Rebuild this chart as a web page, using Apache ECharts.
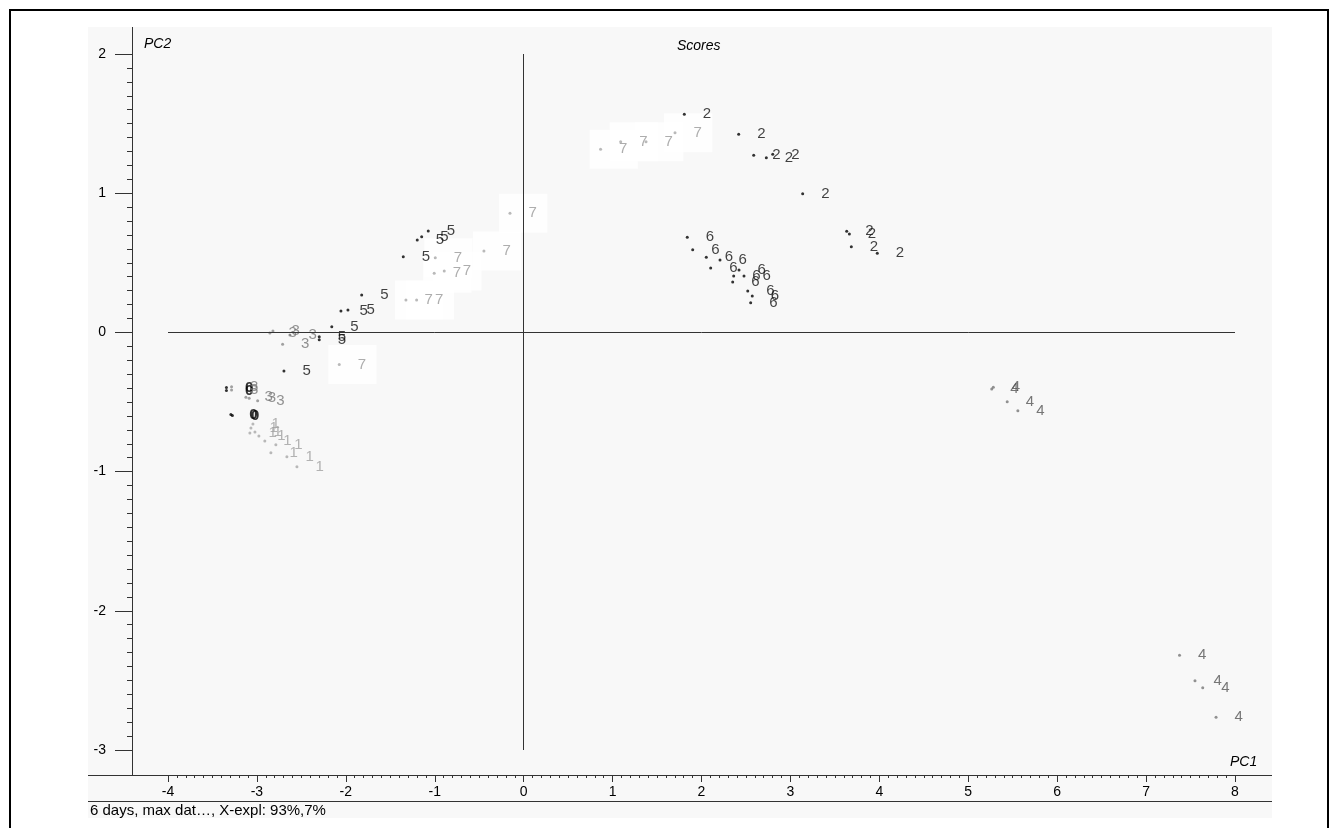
<!DOCTYPE html>
<html>
<head>
<meta charset="utf-8">
<title>Scores</title>
<script src="https://cdn.jsdelivr.net/npm/echarts@6/dist/echarts.min.js"></script>
<style>
  html, body { margin: 0; padding: 0; background: #ffffff; }
  #chart { width: 1332px; height: 828px; }
</style>
</head>
<body>
<div id="chart"></div>
<script>
// PCA score values (PC1, PC2) for each sample group
const scores0 = [[-3.343, -0.396], [-3.343, -0.417], [-3.293, -0.590], [-3.276, -0.597]];
const scores1 = [[-3.045, -0.658], [-3.067, -0.687], [-3.079, -0.723], [-3.022, -0.716], [-2.978, -0.744],
                 [-2.911, -0.780], [-2.787, -0.808], [-2.843, -0.865], [-2.663, -0.894], [-2.550, -0.966]];
const scores2 = [[1.807, 1.567], [2.418, 1.423], [2.587, 1.272], [2.729, 1.255], [2.801, 1.279],
                 [3.138, 0.996], [3.633, 0.726], [3.663, 0.707], [3.685, 0.616], [3.977, 0.568]];
const scores3 = [[-2.854, -0.004], [-2.820, 0.010], [-2.629, -0.019], [-2.711, -0.085], [-3.285, -0.390],
                 [-3.285, -0.414], [-3.124, -0.466], [-3.087, -0.473], [-2.992, -0.491]];
const scores4 = [[5.264, -0.407], [5.282, -0.394], [5.438, -0.498], [5.558, -0.563],
                 [7.376, -2.320], [7.550, -2.502], [7.637, -2.552], [7.787, -2.765]];
const scores5 = [[-1.197, 0.664], [-1.147, 0.688], [-1.073, 0.728], [-1.354, 0.544], [-1.822, 0.269],
                 [-2.055, 0.154], [-1.976, 0.161], [-2.158, 0.041], [-2.299, -0.031], [-2.299, -0.052],
                 [-2.696, -0.277]];
const scores6 = [[1.840, 0.683], [1.901, 0.594], [2.054, 0.540], [2.103, 0.463], [2.208, 0.520],
                 [2.362, 0.405], [2.351, 0.362], [2.422, 0.448], [2.478, 0.405], [2.520, 0.297],
                 [2.571, 0.261], [2.553, 0.213]];
const scores7 = [[0.865, 1.315], [1.091, 1.370], [1.376, 1.370], [1.702, 1.435], [-0.154, 0.856],
                 [-0.447, 0.585], [-0.994, 0.537], [-1.006, 0.425], [-0.893, 0.441], [-1.324, 0.233],
                 [-1.204, 0.233], [-2.074, -0.230]];

const groupNames = ['0', '1', '2', '3', '4', '5', '6', '7'];
const groupScores = [scores0, scores1, scores2, scores3, scores4, scores5, scores6, scores7];

// axis ranges and captions
const pc1Range = [-4, 8];
const pc2Range = [-3, 2];
const plotTitle = 'Scores';
const xName = 'PC1';
const yName = 'PC2';
const footnote = '6 days, max dat\u2026, X-expl: 93%,7%';

const FONT = '"Liberation Sans", Arial, Helvetica, sans-serif';

// per-group drawing style: dot colour, label colour, label weight, white label backdrop
const groupStyle = {
  '0': { dot: '#000000', text: '#000000', bold: true,  box: false },
  '1': { dot: '#a8a8a8', text: '#a0a0a0', bold: false, box: false },
  '2': { dot: '#000000', text: '#111111', bold: false, box: false },
  '3': { dot: '#8a8a8a', text: '#777777', bold: false, box: false },
  '4': { dot: '#777777', text: '#555555', bold: false, box: false },
  '5': { dot: '#000000', text: '#111111', bold: false, box: false },
  '6': { dot: '#000000', text: '#111111', bold: false, box: false },
  '7': { dot: '#a8a8a8', text: '#999999', bold: false, box: true }
};

const LABEL_GAP = 17;
const BOX_PAD = [12, 12, 12, 28];

const chart = echarts.init(document.getElementById('chart'), null, { renderer: 'canvas' });

const series = [];

// white backdrops behind the dots and labels of boxed groups, drawn underneath everything else
groupNames.forEach((name, i) => {
  if (!groupStyle[name].box) return;
  series.push({
    type: 'scatter',
    name: name + '-backdrop',
    data: groupScores[i],
    symbolSize: 0,
    z: 1,
    silent: true,
    label: {
      show: true,
      position: 'right',
      distance: LABEL_GAP - BOX_PAD[3],
      formatter: name,
      color: 'rgba(0,0,0,0)',
      fontSize: 15,
      fontFamily: FONT,
      backgroundColor: '#ffffff',
      padding: BOX_PAD
    },
    emphasis: { disabled: true },
    animation: false
  });
});

groupNames.forEach((name, i) => {
  const st = groupStyle[name];
  series.push({
    type: 'scatter',
    name: name,
    data: groupScores[i],
    symbol: 'circle',
    symbolSize: 3,
    itemStyle: { color: st.dot },
    z: 3,
    label: {
      show: true,
      position: 'right',
      distance: LABEL_GAP,
      formatter: name,
      color: st.text,
      fontSize: 15,
      fontFamily: FONT,
      fontWeight: st.bold ? 'bold' : 'normal'
    },
    emphasis: { disabled: true },
    silent: true,
    animation: false
  });
});

// zero reference lines spanning the full axis ranges
series[series.length - 1].markLine = {
  silent: true,
  symbol: 'none',
  z: 10,
  label: { show: false },
  lineStyle: { color: '#333333', width: 1, type: 'solid' },
  data: [{ yAxis: 0 }, { xAxis: 0 }],
  animation: false
};

const axisColor = '#333333';

const option = {
  animation: false,
  backgroundColor: '#ffffff',
  title: {
    text: plotTitle,
    left: 672,
    top: 34,
    textStyle: { fontFamily: FONT, fontSize: 14, fontStyle: 'italic', fontWeight: 'normal', color: '#000' }
  },
  grid: { left: 168, right: 97, top: 54, bottom: 78, containLabel: false },
  xAxis: {
    type: 'value',
    min: pc1Range[0],
    max: pc1Range[1],
    interval: 1,
    position: 'bottom',
    offset: 25,
    axisLine: { show: true, onZero: false, lineStyle: { color: axisColor, width: 1 } },
    axisTick: { show: true, inside: false, length: 7, lineStyle: { color: axisColor } },
    minorTick: { show: true, splitNumber: 10, length: 3, lineStyle: { color: axisColor } },
    axisLabel: { margin: 10, color: '#000', fontSize: 14, fontFamily: FONT },
    splitLine: { show: false },
    minorSplitLine: { show: false }
  },
  yAxis: {
    type: 'value',
    min: pc2Range[0],
    max: pc2Range[1],
    interval: 1,
    position: 'left',
    offset: 36,
    axisLine: { show: true, onZero: false, lineStyle: { color: axisColor, width: 1 } },
    axisTick: { show: true, inside: false, length: 17, lineStyle: { color: axisColor } },
    minorTick: { show: true, splitNumber: 10, length: 5, lineStyle: { color: axisColor } },
    axisLabel: { margin: 26, color: '#000', fontSize: 14, fontFamily: FONT },
    splitLine: { show: false },
    minorSplitLine: { show: false }
  },
  graphic: [
    // plot panel background
    { type: 'rect', z: -100, silent: true,
      shape: { x: 88, y: 27, width: 1184, height: 791 },
      style: { fill: '#f8f8f8', stroke: null } },
    // outer frame
    { type: 'rect', z: 100, silent: true,
      shape: { x: 10, y: 10, width: 1318, height: 830 },
      style: { fill: null, stroke: '#000000', lineWidth: 2 } },
    // axis line extensions
    { type: 'line', z: 50, silent: true,
      shape: { x1: 88, y1: 775.5, x2: 1272, y2: 775.5 },
      style: { stroke: axisColor, lineWidth: 1 } },
    { type: 'line', z: 50, silent: true,
      shape: { x1: 132.5, y1: 27, x2: 132.5, y2: 775 },
      style: { stroke: axisColor, lineWidth: 1 } },
    // separator above the footnote
    { type: 'line', z: 50, silent: true,
      shape: { x1: 88, y1: 801.5, x2: 1272, y2: 801.5 },
      style: { stroke: axisColor, lineWidth: 1 } },
    { type: 'text', z: 50, silent: true, left: 90, top: 803,
      style: { text: footnote, font: '15px ' + FONT, fill: '#000' } },
    { type: 'text', z: 50, silent: true, left: 144, top: 37,
      style: { text: yName, font: 'italic 14px ' + FONT, fill: '#000' } },
    { type: 'text', z: 50, silent: true, left: 1230, top: 755,
      style: { text: xName, font: 'italic 14px ' + FONT, fill: '#000' } }
  ],
  series: series
};

chart.setOption(option);
</script>
</body>
</html>
